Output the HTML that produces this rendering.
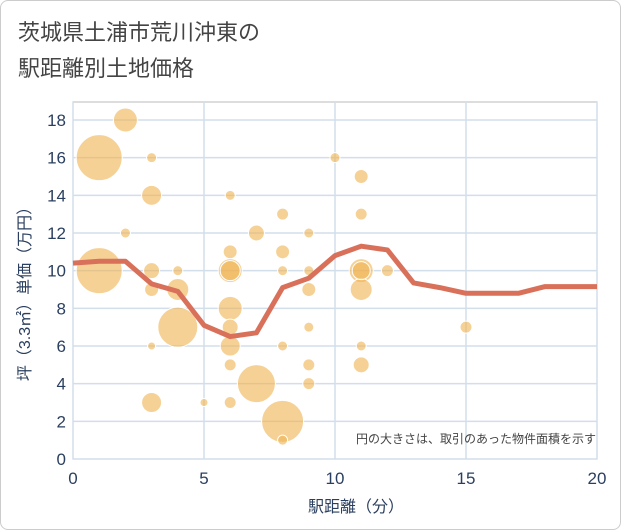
<!DOCTYPE html>
<html><head><meta charset="utf-8"><style>
body{margin:0;background:#fff;font-family:"Liberation Sans","Noto Sans CJK JP",sans-serif;}
.wrap{position:relative;width:619px;height:528px;border:1px solid #ccc;border-radius:8px;background:#fff;}
</style></head><body>
<div class="wrap">
<svg id="c" width="621" height="530" style="position:absolute;left:-1px;top:-1px">
<text x="18" y="40" font-size="22" fill="#444" font-family="Liberation Sans,Noto Sans CJK JP,sans-serif">茨城県土浦市荒川沖東の</text>
<text x="18" y="76" font-size="22" fill="#444" font-family="Liberation Sans,Noto Sans CJK JP,sans-serif">駅距離別土地価格</text>
<g id="grid"></g><g id="bub"></g><g id="line"></g><g id="ax"></g>
<text x="596" y="443" font-size="12" fill="#444" text-anchor="end" font-family="Liberation Sans,Noto Sans CJK JP,sans-serif">円の大きさは、取引のあった物件面積を示す</text>
<text x="356" y="512" font-size="16" fill="#2a3f5f" text-anchor="middle" font-family="Liberation Sans,Noto Sans CJK JP,sans-serif">駅距離（分）</text>
<text transform="translate(30,290) rotate(-90)" font-size="16" fill="#2a3f5f" text-anchor="middle" font-family="Liberation Sans,Noto Sans CJK JP,sans-serif">坪（3.3㎡）単価（万円）</text>
</svg></div>
<script>
const xTicks=[0,5,10,15,20];
const yTicks=[0,2,4,6,8,10,12,14,16,18];
const bx=[1,2,1,3,3,2,3,3,4,4,4,3,3,5,6,6,6,6,6,6,6,6,6,7,7,8,8,8,8,8,8,9,9,9,9,9,9,10,11,11,11,11,11,11,11,12,15];
const by=[16,18,10,16,14,12,10,9,10,9,7,6,3,3,14,11,10,10,8,7,6,5,3,12,4,13,11,10,6,2,1,12,10,9,7,5,4,16,15,13,10,9,10,6,5,10,7];
const bs=[23,12,23,5,10,5,8,7,5,11,20,4,10,4,5,7,12,10,12,8,10,6,6,8,19,6,7,5,5,21,5,5,5,7,5,6,6,5,7,6,12,11,9,5,8,6,6];
const lineX=[0,1,2,3,4,5,6,7,8,9,10,11,12,13,14,15,16,17,18,19,20];
const lineY=[10.4,10.5,10.5,9.3,8.9,7.1,6.5,6.7,9.1,9.6,10.8,11.3,11.1,9.35,9.1,8.8,8.8,8.8,9.15,9.15,9.15];
const X0=73,X1=597,Y0=459,Y1=102;
const sx=v=>X0+(X1-X0)*v/20, sy=v=>Y0-(Y0-120)*v/18;
const NS='http://www.w3.org/2000/svg';
function mk(p,t,a){const e=document.createElementNS(NS,t);for(const k in a)e.setAttribute(k,a[k]);p.appendChild(e);return e;}
const g=document.getElementById('grid'),ax=document.getElementById('ax'),b=document.getElementById('bub'),l=document.getElementById('line');
mk(g,'rect',{x:X0,y:Y1,width:X1-X0,height:Y0-Y1,fill:'none',stroke:'#bbb'});
yTicks.forEach(v=>{const ln=mk(g,'line',{x1:X0,x2:X1,y1:sy(v),y2:sy(v),stroke:'#d3deeb','stroke-width':1.5});

const t=mk(ax,'text',{x:66,y:sy(v)+6,'font-size':17,fill:'#2a3f5f','text-anchor':'end'});t.textContent=v;
});
xTicks.forEach(v=>{const ln=mk(g,'line',{x1:sx(v),x2:sx(v),y1:Y1,y2:Y0,stroke:'#d3deeb','stroke-width':1.5});

const t=mk(ax,'text',{x:sx(v),y:484,'font-size':17,fill:'#2a3f5f','text-anchor':'middle'});t.textContent=v;
});
bx.forEach((v,i)=>{const c=mk(b,'circle',{cx:sx(v),cy:sy(by[i]),r:bs[i],fill:'rgba(240,178,80,0.6)',stroke:'#fff','stroke-width':1});
});
const p=mk(l,'polyline',{points:lineX.map((v,i)=>sx(v)+','+sy(lineY[i])).join(' '),fill:'none',stroke:'#d9705a','stroke-width':5,'stroke-linejoin':'round'});

</script></body></html>
